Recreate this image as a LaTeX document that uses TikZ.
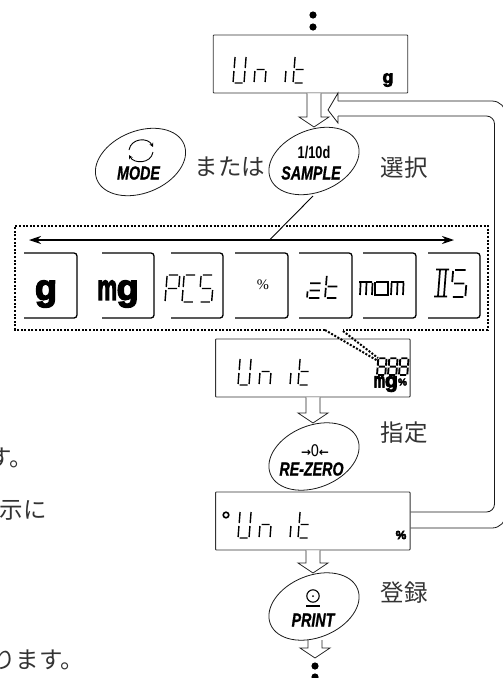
\documentclass[tikz,border=0pt]{standalone}
\usepackage{fontspec}
\setmainfont{Liberation Sans}[BoldItalicFeatures={FakeBold=1}]
\newfontfamily\jp{Noto Sans CJK JP}
\newfontfamily\heavy[BoldFeatures={FakeBold=4}]{Liberation Sans}
\newfontfamily\serifp{Liberation Serif}
\newfontfamily\djv{DejaVu Sans}
\usetikzlibrary{shapes.geometric,calc,arrows.meta}
\def\sA{(1.5,-27)--(9.5,-27)}
\def\sB{(11,-26)--(11,-15)}
\def\sC{(11,-12)--(11,-1)}
\def\sD{(1.5,0)--(9.5,0)}
\def\sE{(0,-1)--(0,-12)}
\def\sF{(0,-15)--(0,-26)}
\def\sG{(1.5,-13.5)--(9.5,-13.5)}
\newcommand\segs[4][]{\draw[seg,shift={(#2,#3)},xslant=.08,#1] #4;}
\newcommand\unitword[2]{%
  \segs{#1}{#2}{\sF \sE \sD \sB \sC}
  \segs{#1+21}{#2}{\sE \sG \sC}
  \segs{#1+52}{#2}{\sE}
  \segs{#1+60}{#2}{\sF \sE \sG \sD}}
\newcommand\holarrow[2]{%
  \draw[hol] let \p1=#1,\p2=#2 in
   (\x2-7pt,\y1) -- (\x2-7pt,\y2+10pt) -- (\x2-15pt,\y2+10pt) -- (\x2,\y2) --
   (\x2+15pt,\y2+10pt) -- (\x2+7pt,\y2+10pt) -- (\x2+7pt,\y1);}
\newcommand\card[2]{\draw[cardline,rounded corners=3pt] (#1,253) -- (#2,253) -- (#2,318) -- (#1,318);}
\tikzset{
  x=1pt,y=-1pt,
  seg/.style={line width=1.4pt,black},
  hol/.style={line width=.8pt,black!85,fill=white},
  lcd/.style={draw=black!80,line width=.9pt,rounded corners=.8pt,minimum width=194.5pt,minimum height=58pt,inner sep=0pt},
  key/.style={ellipse,draw=black!90,line width=.8pt,minimum width=94pt,minimum height=62pt,rotate=22,inner sep=0pt},
  keytext/.style={font=\bfseries\itshape\fontsize{19}{19}\selectfont,inner sep=0pt},
  jptext/.style={font=\jp\fontsize{23.5}{24}\selectfont,inner sep=0pt,black!80},
  sidetext/.style={font=\jp\fontsize{23.5}{24}\selectfont,inner sep=0pt,anchor=east,black!80},
  dotbox/.style={line width=2pt,dash pattern=on 2pt off 1.6pt},
  cardline/.style={line width=1.3pt},
  bigunit/.style={font=\heavy\bfseries\fontsize{36}{36}\selectfont,inner sep=0pt},
}
\begin{document}
\begin{tikzpicture}
\useasboundingbox (0,0) rectangle (503,678);
% side text
\node[sidetext] (s1) at (33,458) {す。};
\node[sidetext] (s2) at (47,510) {示に};
\node[sidetext] (s3) at (84,660) {ります。};
% displays
\node[lcd] (d1) at (310.5,64) {};
\node[lcd] (d2) at (312.8,368) {};
\node[lcd] (d3) at (312.8,521) {};
\unitword{233}{83}
\unitword{238}{385}
\unitword{238}{538}
% dots
\fill (313,15) circle (3.6) (313,27) circle (3.6);
\fill (315,666) circle (3.6) (315,677) circle (3.6);
% key targets
\coordinate (t1) at (314,127);
\coordinate (t2) at (313,423);
\coordinate (t3) at (313,573);
\coordinate (t4) at (315,658);
\holarrow{(d1.south)}{(t1)}
\holarrow{(d2.south)}{(t2)}
\holarrow{(d3.south)}{(t3)}
\coordinate (p4) at (315,640);
\holarrow{(p4)}{(t4)}
% return arrow
\coordinate (rt) at (328,110);
\draw[line width=.8pt,black!90,rounded corners=8pt] ([yshift=9pt]d3.east) -- (494.5,512) -- (494.5,116) -- (338,116);
\draw[line width=.8pt,black!90,rounded corners=14pt] ([yshift=-7pt]d3.east) -- (506,528) -- (506,101) -- (338,101);
\draw[line width=.8pt,black!90,line join=miter] (338,101) -- (338,93) -- (rt) -- (338,123) -- (338,116);
% keys
\node[key] (k1) at (140.5,162) {};
\node[key] (k2) at (314,161) {};
\node[key] (k3) at (314,456.5) {};
\node[key] (k4) at (314,606.5) {};
% key labels
\node[keytext] (l1) at (138.5,173) {\scalebox{.75}[1]{MODE}};
\draw[line width=.9pt,-{Stealth[length=4pt,width=4pt]}] (129,150) .. controls (131,138) and (148,137) .. (153,147);
\draw[line width=.9pt,-{Stealth[length=4pt,width=4pt]}] (153,152) .. controls (151,164) and (134,164) .. (129,155);
\node[font=\bfseries\fontsize{17}{17}\selectfont,inner sep=0pt] (l2a) at (314,153) {\scalebox{.75}[1]{1/10d}};
\node[keytext] (l2) at (311,173) {\scalebox{.75}[1]{SAMPLE}};
\node[inner sep=0pt] (l3a) at (315,450.5) {\fontsize{12}{12}\djv\bfseries →\kern-.5pt\scalebox{.85}[1]{\fontsize{16}{16}\selectfont\mdseries 0}\kern-.5pt←};
\node[keytext] (l3) at (311.5,469) {\scalebox{.75}[1]{RE-ZERO}};
\node[keytext] (l4) at (313,620) {\scalebox{.75}[1]{PRINT}};
\draw[line width=1.1pt] (313,596) circle (6.2);
\fill (313,596) circle (1);
\draw[line width=1.4pt] (306,606) -- (320,606);
% japanese
\node[jptext] (j1) at (230,167) {または};
\node[jptext] (j2) at (404,168) {選択};
\node[jptext] (j3) at (404,433) {指定};
\node[jptext] (j4) at (404,593) {登録};
% dotted box
\draw[dotbox] (325,329.5) -- (15,329.5) -- (15,226) -- (488,226) -- (488,329.5) -- (343,329.5);
\draw[dotbox] (325,330) -- (378,361);
\draw[dotbox] (343,331) -- (378,358);
\coordinate (da) at (270,239.5);
\draw[line width=.9pt,preaction={draw=white,line width=3pt}] (313,196) -- (da);
\draw[line width=1.2pt,{Stealth[length=12pt,width=8pt]}-{Stealth[length=12pt,width=8pt]}] (29,240) -- (454,240);
% cards
\card{24}{77}\card{102}{154}\card{171}{223}\card{235}{288}\card{299}{352}\card{363}{416}\card{428}{480}
\node[bigunit] (g) at (46,294) {g};
\node[bigunit] (mg) at (118,294) {\scalebox{.62}[1]{m}\kern-.5pt g};
\node[font=\serifp\fontsize{14.5}{15}\selectfont,inner sep=0pt] (pct) at (263,285) {\%};
% PCS
\segs[xscale=1.15]{165}{302}{\sA \sB \sG \sF \sE}
\segs[xscale=1.15]{182}{302}{\sA \sF \sE \sD}
\segs[xscale=1.15]{199}{302}{\sA \sF \sG \sC \sD}
% ct
\segs[xscale=1.3,yscale=.55,line width=1.7pt]{307}{298}{\sG \sA \sE \sD}
\segs[xscale=1.2,yscale=.85,line width=1.7pt]{325}{298}{\sF \sE \sG \sD}
% mom
\begin{scope}[seg/.append style={line width=1.7pt}]
\draw[seg] (359,282) -- (372,282) (360,295) -- (360.6,283) (366,295) -- (366.5,283) (372,295) -- (372.5,283);
\draw[seg] (376,282) -- (388,282) -- (388,295) -- (375,295) -- (375,282);
\draw[seg] (391,282) -- (404,282) (391,295) -- (391.6,283) (397,295) -- (397.5,283) (403,295) -- (403.5,283);
% DS
\draw[seg] (436,269.5) -- (449,269.5) (434,296.5) -- (447,296.5) (438,296) -- (440,270) (444,296) -- (446,270);
\segs[xscale=1.3,line width=1.8pt]{451}{297}{\sA \sF \sG \sC \sD}
\end{scope}
% display units
\node[bigunit,font=\heavy\bfseries\fontsize{18}{18}\selectfont] (u1) at (388,80) {g};
\node[font=\heavy\bfseries\fontsize{12}{12}\selectfont,inner sep=0pt] (u3) at (401,535) {\%};
\draw[line width=1.6pt] (226,515) circle (2.8);
% mini icon
\foreach \xx in {377,388,399}{
  \segs[xscale=.75,yscale=.62,line width=1.9pt]{\xx}{375}{\sA \sB \sC \sD \sE \sF \sG}
}
\node[bigunit,font=\heavy\bfseries\fontsize{21}{21}\selectfont,anchor=east] (u2a) at (398,384) {\scalebox{.62}[1]{m}\kern-.3pt g};
\node[font=\heavy\bfseries\fontsize{10}{10}\selectfont,inner sep=0pt] (u2b) at (402.5,382) {\%};
\end{tikzpicture}
\end{document}
